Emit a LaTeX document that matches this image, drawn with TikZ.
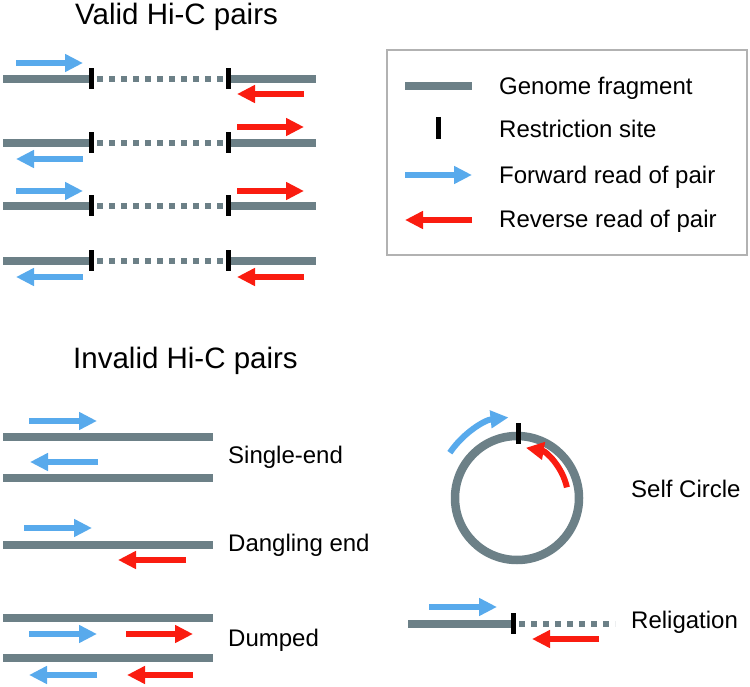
\documentclass[tikz,border=0pt]{standalone}
\usepackage{fontspec}
\setmainfont{Liberation Sans}
\usetikzlibrary{arrows.meta}
\definecolor{fraggray}{RGB}{108,128,135}
\definecolor{readblue}{RGB}{88,170,236}
\definecolor{readred}{RGB}{250,28,16}
\tikzset{
  frag/.style={draw=fraggray, line width=8.5pt},
  gapfrag/.style={draw=fraggray, line width=6pt, dash pattern=on 6pt off 6pt},
  site/.style={draw=black, line width=5pt},
  fwd/.style={draw=readblue, line width=6pt, -{Triangle[length=18pt,width=17pt]}},
  rev/.style={draw=readred, line width=6pt, -{Triangle[length=18pt,width=17pt]}},
  lbl/.style={anchor=base west, inner sep=0pt, font=\fontsize{24}{28}\selectfont},
  ttl/.style={anchor=base west, inner sep=0pt, font=\fontsize{29.5}{33}\selectfont}
}
\begin{document}
\begin{tikzpicture}[x=1pt, y=-1pt]
\useasboundingbox (0,0) rectangle (750,687);
% valid pairs
\node[ttl] (valid) at (75,25) {Valid Hi-C pairs};
\foreach \y/\by/\bs/\be/\ry/\rs/\re in {79/63/16/83/94/304/237, 143/159/83/16/127/237/304, 206/191/16/83/191/237/304, 261/277/83/16/277/304/237}{
  \draw[frag] (3,\y) -- (91,\y);
  \draw[gapfrag] (97,\y) -- (228,\y);
  \draw[frag] (228,\y) -- (316,\y);
  \draw[site] (91,\y-10.5) -- (91,\y+10.5);
  \draw[site] (228,\y-10.5) -- (228,\y+10.5);
  \draw[fwd] (\bs,\by) -- (\be,\by);
  \draw[rev] (\rs,\ry) -- (\re,\ry);
}
% legend
\draw[draw=black!30, line width=1.5pt] (387,50) rectangle (747,255);
\draw[frag] (405,86) -- (472,86);
\draw[site] (438,117) -- (438,139);
\draw[fwd] (405,175) -- (472,175);
\draw[rev] (472,220) -- (405,220);
\node[lbl] (lg1) at (499,94.5) {Genome fragment};
\node[lbl] (lg2) at (499,137.5) {Restriction site};
\node[lbl] (lg3) at (499,183.5) {Forward read of pair};
\node[lbl] (lg4) at (499,227.5) {Reverse read of pair};
% invalid pairs
\node[ttl] (invalid) at (73,368) {Invalid Hi-C pairs};
\draw[frag] (3,437) -- (213,437);
\draw[frag] (3,478) -- (213,478);
\draw[fwd] (29,421) -- (97,421);
\draw[fwd] (98,462) -- (30,462);
\node[lbl] (single) at (228,463.5) {Single-end};
\draw[frag] (3,545) -- (213,545);
\draw[fwd] (24,528) -- (92,528);
\draw[rev] (186,560) -- (118,560);
\node[lbl] (dangling) at (228,551.5) {Dangling end};
\draw[frag] (3,618) -- (213,618);
\draw[frag] (3,658) -- (213,658);
\draw[fwd] (29,634) -- (97,634);
\draw[rev] (126,634) -- (193,634);
\draw[fwd] (97,675) -- (29,675);
\draw[rev] (193,675) -- (127,675);
\node[lbl] (dumped) at (228,646.5) {Dumped};
% self circle
\coordinate (sc) at (517,498);
\draw[frag] (sc) circle[radius=62pt];
\draw[site] (518,423) -- (518,444);
\draw[fwd] ([shift={(146:81pt)}]sc) arc[start angle=146, end angle=96, radius=81pt];
\draw[rev] ([shift={(12:51pt)}]sc) arc[start angle=12, end angle=80, radius=51pt];
\node[lbl] (selfc) at (631,497.5) {Self Circle};
% religation
\draw[frag] (408,624) -- (513,624);
\draw[gapfrag] (519,624) -- (615,624);
\draw[site] (513,613) -- (513,634);
\draw[fwd] (429,607) -- (497,607);
\draw[rev] (599,639) -- (532,639);
\node[lbl] (relig) at (631,628.5) {Religation};
\end{tikzpicture}
\end{document}
